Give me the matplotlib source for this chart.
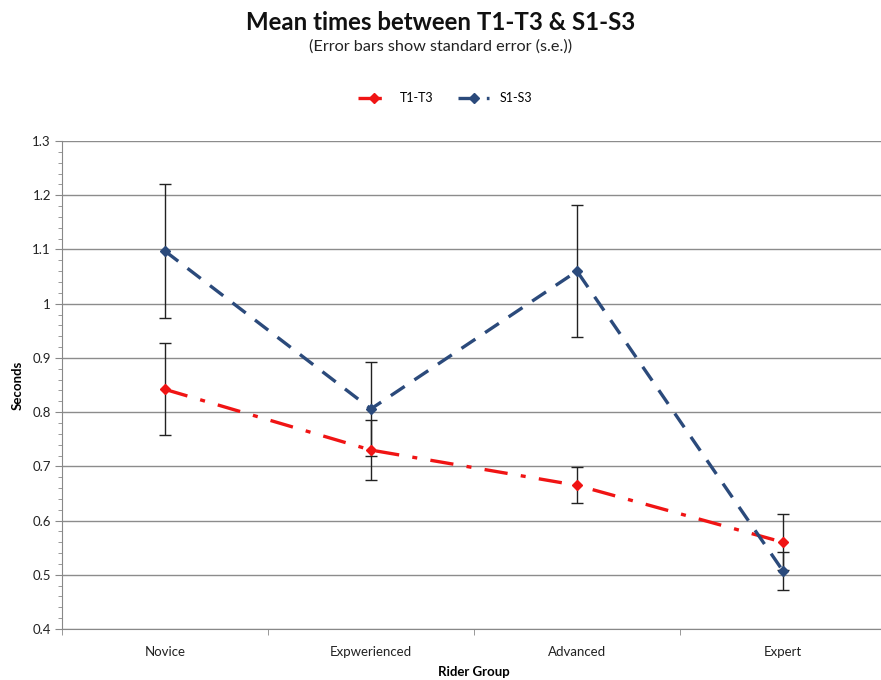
import matplotlib
matplotlib.use('Agg')

import matplotlib.pyplot as plt
from matplotlib.ticker import MultipleLocator, FormatStrFormatter
import numpy as np

plt.rcParams['font.family'] = ['Lato', 'DejaVu Sans']

# data
groups = ["Novice", "Expwerienced", "Advanced", "Expert"]
t_mean = [0.842, 0.730, 0.665, 0.560]
t_se = [0.085, 0.055, 0.033, 0.052]
s_mean = [1.097, 0.806, 1.060, 0.507]
s_se = [0.123, 0.087, 0.122, 0.035]

red = "#F01414"
blue = "#2B4A7B"

x = np.arange(len(groups))

fig = plt.figure(figsize=(8.81, 6.8), dpi=100)
ax = fig.add_axes([62 / 881, 51 / 680, 824 / 881, 488 / 680])

# error bars first so the lines sit on top
ax.errorbar(x, t_mean, yerr=t_se, fmt='none', ecolor='#222222', elinewidth=1.0,
            capsize=4, capthick=1.0, zorder=3)
ax.errorbar(x, s_mean, yerr=s_se, fmt='none', ecolor='#222222', elinewidth=1.0,
            capsize=4, capthick=1.0, zorder=3)

ax.plot(x, t_mean, color=red, lw=2.4, dashes=(7, 4, 1.5, 4), marker='D',
        ms=5.5, mfc=red, mec=red, label="T1-T3", zorder=4)
ax.plot(x, s_mean, color=blue, lw=2.4, dashes=(5, 3.5), marker='D',
        ms=5.5, mfc=blue, mec=blue, label="S1-S3", zorder=4)

ax.set_xlim(-0.5, 3.5)
ax.set_ylim(0.4, 1.3001)
ax.set_xticks(x)
ax.set_xticklabels(groups)
ax.set_xticks(np.arange(-0.5, 3.6, 1.0), minor=True)
ax.yaxis.set_major_locator(MultipleLocator(0.1))
ax.yaxis.set_minor_locator(MultipleLocator(0.02))
ax.yaxis.set_major_formatter(FormatStrFormatter('%g'))

ax.tick_params(axis='x', which='major', length=0, pad=12, labelsize=9.5, colors='#222222')
ax.tick_params(axis='x', which='minor', length=4, color='#888888', direction='out')
ax.tick_params(axis='y', which='major', length=5, color='#888888', labelsize=9.5,
               labelcolor='#222222', pad=3)
ax.tick_params(axis='y', which='minor', length=3, color='#888888')

ax.grid(axis='y', which='major', color='#8c8c8c', lw=1.0)
ax.set_axisbelow(True)
for side in ['top', 'right']:
    ax.spines[side].set_visible(False)
ax.spines['left'].set_color('#888888')
ax.spines['bottom'].set_color('#888888')

ax.set_ylabel("Seconds", fontsize=9.5, fontweight='bold', labelpad=6)
ax.set_xlabel("Rider Group", fontsize=9.5, fontweight='bold', labelpad=6)

fig.text(0.5, 1 - 22 / 680, "Mean times between T1-T3 & S1-S3", ha='center', va='center',
         fontsize=17.3, fontweight='bold', color='#111111')
fig.text(0.5, 1 - 47 / 680, "(Error bars show standard error (s.e.))", ha='center',
         va='center', fontsize=11.7, color='#222222')

fig.legend(loc='center', bbox_to_anchor=(445 / 881, 1 - 98 / 680), ncol=2, frameon=False,
           fontsize=9, handlelength=2.5, columnspacing=2.0)

plt.savefig("out.png", dpi=100)
plt.close(fig)
